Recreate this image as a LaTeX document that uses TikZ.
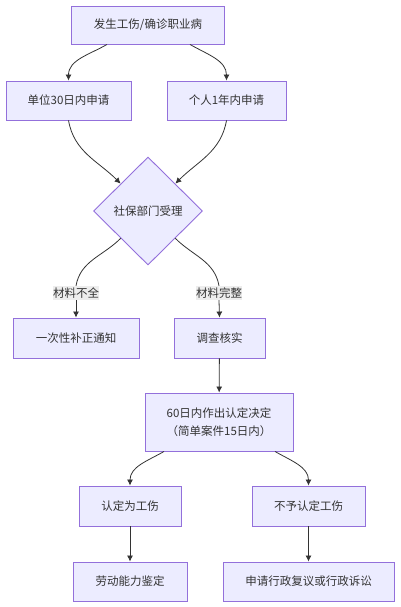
\documentclass[tikz,border=0pt]{standalone}
\usepackage{fontspec}
\newfontfamily\cjk{Noto Sans CJK SC}
\usepackage{xcolor}
\usepackage{tikz}
\usetikzlibrary{shapes,shapes.geometric,arrows.meta,calc}
\definecolor{boxfill}{HTML}{ECECFF}
\definecolor{boxline}{HTML}{9370DB}
\definecolor{edgeline}{HTML}{333333}
\definecolor{lblfill}{HTML}{E8E8E8}
\tikzset{
  box/.style={draw=boxline, fill=boxfill, line width=0.9pt, text=edgeline, align=center, inner sep=2pt},
  dia/.style={diamond, draw=boxline, fill=boxfill, line width=0.9pt, text=edgeline, inner sep=0pt, minimum width=109pt, minimum height=108pt},
  lbl/.style={fill=lblfill, fill opacity=0.8, text opacity=1, text=edgeline, inner sep=0pt, minimum height=14pt, minimum width=46pt},
  arr/.style={draw=edgeline, line width=0.8pt, -{Latex[length=6pt,width=6pt]}},
  edge/.style={draw=edgeline, line width=0.8pt}
}

\begin{document}
\begin{tikzpicture}[x=1pt, y=-1pt, font=\cjk\fontsize{11.5}{18.5}\selectfont]
    \useasboundingbox (0,0) rectangle (400,607);
    \node[box, minimum width=153pt, minimum height=38pt] (start) at (148,25) {发生工伤/确诊职业病};
    \node[box, minimum width=125pt, minimum height=39pt] (unit) at (68.5,100.5) {单位30日内申请};
    \node[box, minimum width=119pt, minimum height=39pt] (person) at (226.5,100.5) {个人1年内申请};
    \node[dia] (accept) at (148,211) {社保部门受理};
    \node[lbl] (lacking) at (76,293) {材料不全};
    \node[lbl] (complete) at (219,293) {材料完整};
    \node[box, minimum width=126pt, minimum height=40pt] (notice) at (76,338) {一次性补正通知};
    \node[box, minimum width=91pt, minimum height=40pt] (verify) at (219.5,338) {调查核实};
    \node[box, minimum width=148pt, minimum height=58pt] (decide) at (219,422) {60日内作出认定决定\\（简单案件15日内）};
    \node[box, minimum width=102pt, minimum height=40pt] (injury) at (130,506) {认定为工伤};
    \node[box, minimum width=113pt, minimum height=40pt] (noinjury) at (308.5,506) {不予认定工伤};
    \node[box, minimum width=114pt, minimum height=39pt] (assess) at (130,581.5) {劳动能力鉴定};
    \node[box, minimum width=171pt, minimum height=39pt] (appeal) at (308.5,581.5) {申请行政复议或行政诉讼};

    \draw[arr] ([xshift=-41pt]start.south) to[out=-150, in=90] (unit);
    \draw[arr] ([xshift=42pt]start.south) to[out=-30, in=90] (person);
    \draw[arr] (unit.south) to[out=-80, in=135] (accept);
    \draw[arr] (person.south) to[out=-100, in=45] (accept);
    \draw[edge] (accept) to[out=-135, in=80] (lacking.north);
    \draw[edge] (accept) to[out=-45, in=100] (complete.north);
    \draw[arr] (lacking.south) -- (notice.north);
    \draw[arr] (complete.south) -- (verify.north);
    \draw[arr] (verify) -- (decide);
    \draw[arr] ([xshift=-55pt]decide.south) to[out=-150, in=90] (injury);
    \draw[arr] ([xshift=56pt]decide.south) to[out=-30, in=90] (noinjury);
    \draw[arr] (injury) -- (assess);
    \draw[arr] (noinjury) -- (appeal);
\end{tikzpicture}
\end{document}
